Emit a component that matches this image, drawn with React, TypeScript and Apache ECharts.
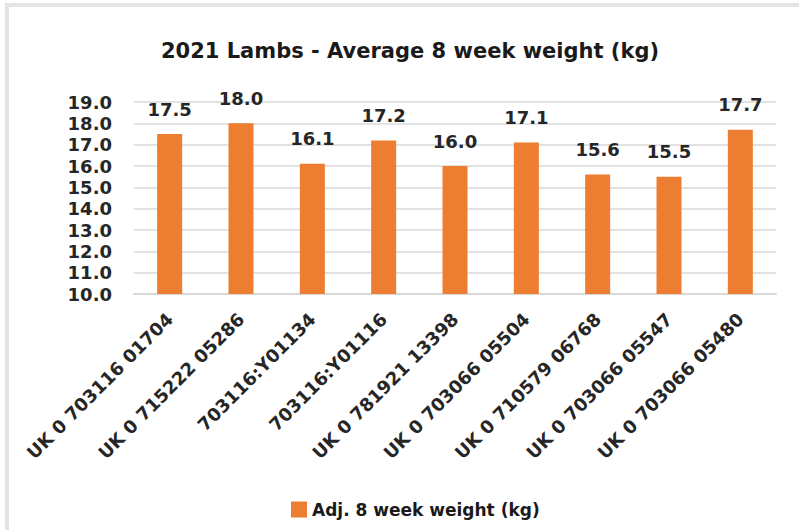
import React, { useEffect, useRef } from "react";
import * as echarts from "echarts";

const categories = [
  "UK 0 703116 01704",
  "UK 0 715222 05286",
  "703116:Y01134",
  "703116:Y01116",
  "UK 0 781921 13398",
  "UK 0 703066 05504",
  "UK 0 710579 06768",
  "UK 0 703066 05547",
  "UK 0 703066 05480",
];
const weights = [17.5, 18.0, 16.1, 17.2, 16.0, 17.1, 15.6, 15.5, 17.7];
const seriesName = "Adj. 8 week weight (kg)";
const titleText = "2021 Lambs - Average 8 week weight (kg)";

const FONT = "DejaVu Sans";

export default function App() {
  const ref = useRef<HTMLDivElement>(null);
  useEffect(() => {
    const chart = echarts.init(ref.current!, null, { renderer: "svg" });
    chart.setOption({
      animation: false,
      backgroundColor: "#ffffff",
      title: {
        text: titleText,
        left: 405,
        top: 35,
        textAlign: "center",
        textStyle: { fontFamily: FONT, fontSize: 21, fontWeight: "bold", color: "#1a1a1a" },
      },
      graphic: [
        {
          type: "rect",
          shape: { x: 7, y: 5, width: 900, height: 900 },
          style: { fill: "none", stroke: "#e4e4e4", lineWidth: 4 },
          silent: true,
        },
      ],
      legend: {
        bottom: 7,
        left: 286,
        itemWidth: 16,
        itemHeight: 16,
        icon: "rect",
        itemGap: 6,
        textStyle: { fontFamily: FONT, fontSize: 17, fontWeight: "bold", color: "#1a1a1a" },
        data: [seriesName],
      },
      grid: { left: 134, right: 23, top: 102, bottom: 236, containLabel: false },
      xAxis: {
        type: "category",
        data: categories,
        axisLine: { lineStyle: { color: "#d9d9d9", width: 2 } },
        axisTick: { show: false },
        axisLabel: {
          rotate: 45,
          interval: 0,
          margin: 22,
          fontFamily: FONT,
          fontSize: 18,
          fontWeight: "bold",
          color: "#262626",
        },
      },
      yAxis: {
        type: "value",
        min: 10,
        max: 19,
        interval: 1,
        axisLine: { show: false },
        axisTick: { show: false },
        splitLine: { lineStyle: { color: "#d9d9d9", width: 1.5 } },
        axisLabel: {
          margin: 22,
          fontFamily: FONT,
          fontSize: 18,
          fontWeight: "bold",
          color: "#262626",
          formatter: (v: number) => v.toFixed(1),
        },
      },
      series: [
        {
          name: seriesName,
          type: "bar",
          data: weights,
          barWidth: 25,
          itemStyle: { color: "#ED7D31" },
          label: {
            show: true,
            position: "top",
            distance: 16,
            fontFamily: FONT,
            fontSize: 18,
            fontWeight: "bold",
            color: "#262626",
            formatter: (p: any) => Number(p.value).toFixed(1),
          },
        },
      ],
    });
    return () => chart.dispose();
  }, []);
  return (
    <div
      ref={ref}
      style={{ position: "fixed", left: 0, top: 0, width: 799, height: 530 }}
    />
  );
}
